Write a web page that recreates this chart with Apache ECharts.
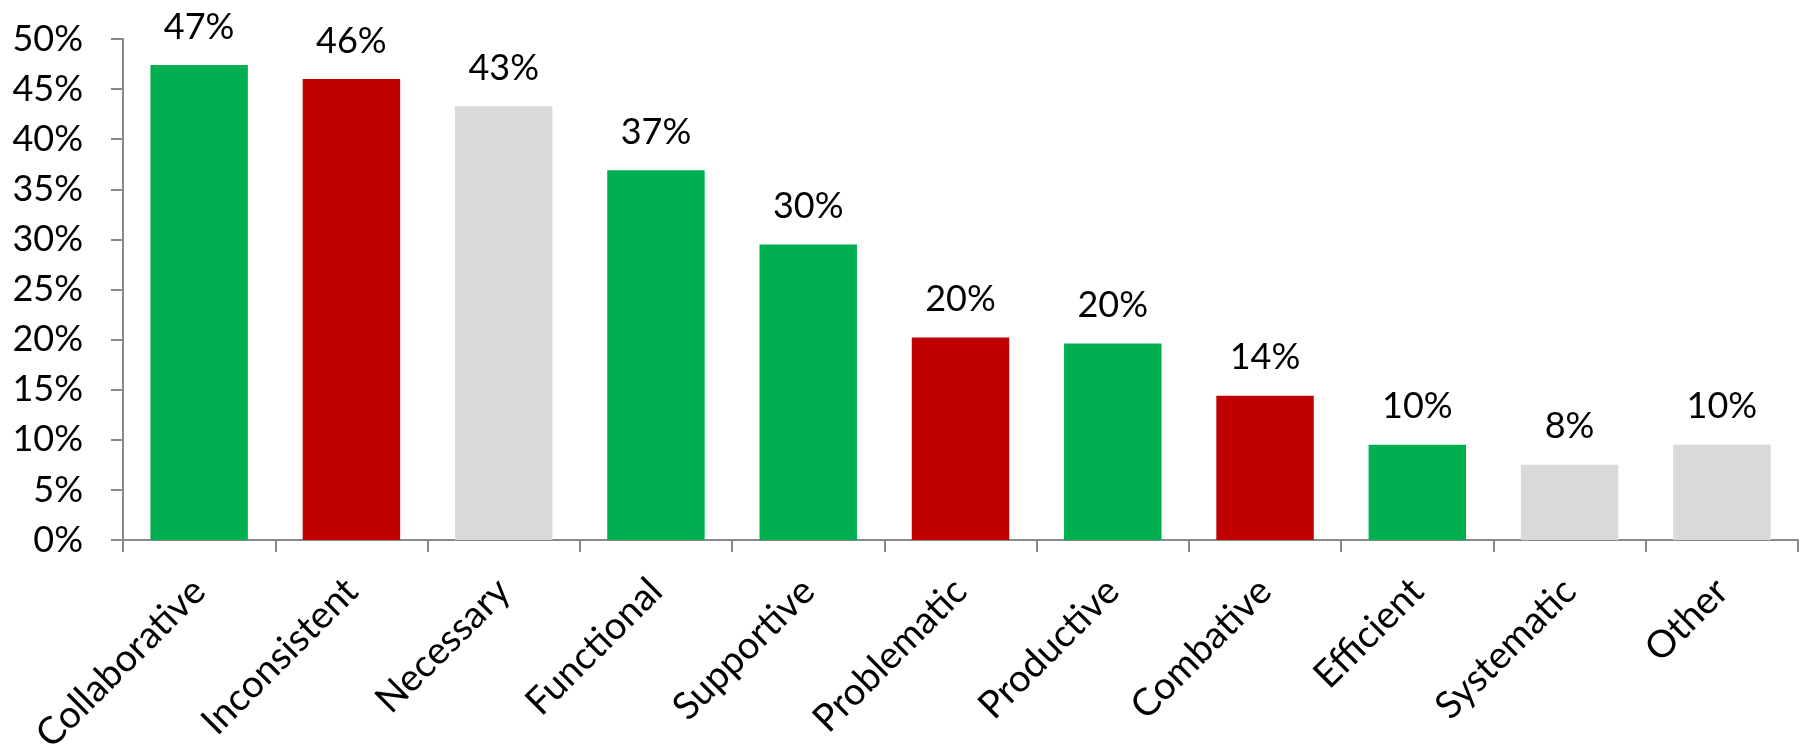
<!DOCTYPE html>
<html>
<head>
<meta charset="utf-8">
<script src="https://cdn.jsdelivr.net/npm/echarts@6/dist/echarts.min.js"></script>
<style>
html,body{margin:0;padding:0;background:#fff;}
#chart{width:1806px;height:749px;}
</style>
</head>
<body>
<div id="chart"></div>
<script>
var categories = ['Collaborative','Inconsistent','Necessary','Functional','Supportive','Problematic','Productive','Combative','Efficient','Systematic','Other'];
var values = [47.4, 46.0, 43.3, 36.9, 29.5, 20.2, 19.6, 14.4, 9.5, 7.5, 9.5];
var sentiment = ['positive','negative','neutral','positive','positive','negative','positive','negative','positive','neutral','neutral'];
var yTicks = [0,5,10,15,20,25,30,35,40,45,50];

var palette = {positive:'#00B050', negative:'#C00000', neutral:'#D9D9D9'};
var FONT = 'Lato';

var chart = echarts.init(document.getElementById('chart'));
chart.setOption({
  backgroundColor:'#ffffff',
  animation:false,
  grid:{left:123, right:8, top:39, bottom:209, containLabel:false, outerBoundsMode:'none'},
  xAxis:{
    type:'category',
    data:categories,
    axisLine:{lineStyle:{color:'#898989', width:2}},
    axisTick:{show:true, length:12, lineStyle:{color:'#898989', width:2}},
    axisLabel:{rotate:45, interval:0, margin:45, color:'#000', fontFamily:FONT, fontSize:38}
  },
  yAxis:{
    type:'value',
    min:yTicks[0], max:yTicks[yTicks.length-1], interval:5,
    splitLine:{show:false},
    axisLine:{show:true, lineStyle:{color:'#898989', width:2}},
    axisTick:{show:true, length:12, lineStyle:{color:'#898989', width:2}},
    axisLabel:{formatter:'{value}%', margin:40, color:'#000', fontFamily:FONT, fontSize:36}
  },
  series:[{
    type:'bar',
    barCategoryGap:'36%',
    data:values.map(function(v,i){return {value:v, itemStyle:{color:palette[sentiment[i]]}};}),
    label:{show:true, position:'top', distance:20, color:'#000', fontFamily:FONT, fontSize:36,
      formatter:function(p){return Math.round(p.value)+'%';}}
  }]
});
</script>
</body>
</html>
